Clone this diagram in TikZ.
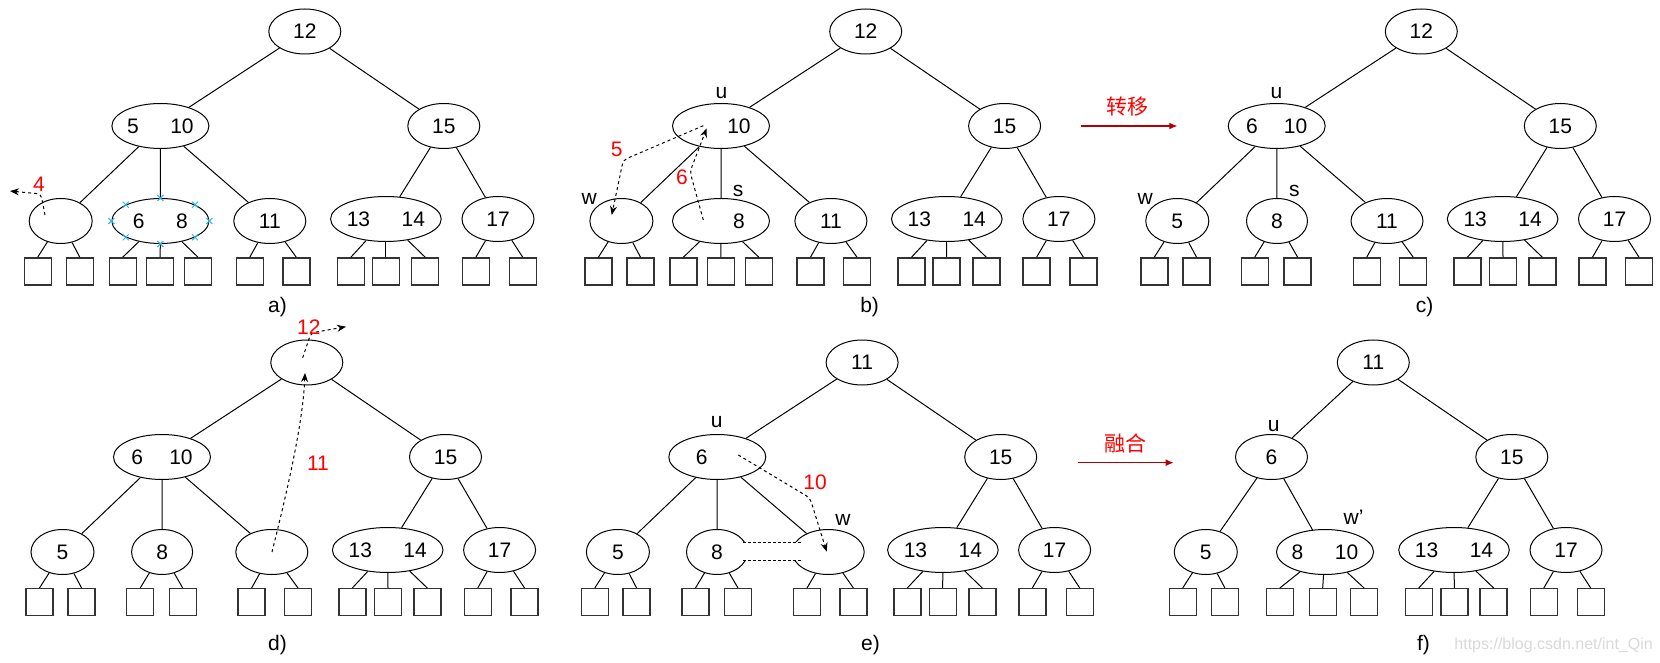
\documentclass[tikz,border=0pt]{standalone}
\usepackage{fontspec}
\setmainfont{Liberation Sans}
\newfontfamily\cjk{Noto Sans CJK SC}
\usepackage{tikz}
\usetikzlibrary{shapes.geometric, shapes.misc, arrows.meta}
\definecolor{arrowred}{RGB}{180,0,0}
\definecolor{markblue}{RGB}{41,182,242}
\newcommand\kf{\fontsize{10.5pt}{12pt}\selectfont}

\tikzset{
  key/.style={ellipse, draw, line width=0.5pt, inner sep=0pt, minimum width=36pt, minimum height=22.5pt, font=\kf},
  wide/.style={key, minimum width=48.5pt},
  slim/.style={key, minimum width=31.5pt},
  box/.style={draw=black!80, line width=0.7pt, minimum size=13.5pt, inner sep=0pt},
  tag/.style={font=\kf, inner sep=0pt},
  rednum/.style={font=\kf, text=red, inner sep=0pt},
  trace/.style={dash pattern=on 1.5pt off 1.5pt, line width=0.5pt, rounded corners=2pt, -{Stealth[length=4.5pt,width=3.5pt]}},
  bigarrow/.style={draw=arrowred, line width=0.6pt, -{Latex[length=4pt,width=3.5pt]}},
  xmark/.style={cross out, draw=markblue, line width=0.5pt, minimum size=2.5pt, inner sep=0pt}
}

\begin{document}
\begin{tikzpicture}[x=0.5pt, y=-0.5pt, line width=0.5pt]
  \useasboundingbox (0,0) rectangle (1660,663);

  %% a) the key 4 leaves an empty node
  \node[key] (a0) at (304.8,31.5) {12};
  \node[wide] (a1) at (160.4,126) {5\hspace{1.5em}10};
  \node[key] (a2) at (443.8,126) {15};
  \node[slim] (a3) at (60.7,221) {};
  \node[wide] (a4) at (160.4,221) {6\hspace{1.5em}8};
  \node[key] (a5) at (269.8,221) {11};
  \node[wide] (a6) at (385.9,219) {13\hspace{1.5em}14};
  \node[key] (a7) at (498,219) {17};
  \foreach \i/\x in {1/37.7, 2/79.8, 3/122.7, 4/160.2, 5/198, 6/249.8,
                     7/296.3, 8/350.9, 9/385.9, 10/425.2, 11/475.9, 12/522.7}
    \node[box] (aq\i) at (\x,271.4) {};
  \draw (a0) -- (a1) (a0) -- (a2) (a1) -- (a3) (a1) -- (a4) (a1) -- (a5) (a2) -- (a6) (a2) -- (a7);
  \foreach \p/\q in {a3/1, a3/2, a4/3, a4/4, a4/5, a5/6, a5/7, a6/8, a6/9, a6/10, a7/11, a7/12}
    \draw (\p) -- (aq\q.north);
  \foreach \a in {north, south, east, west, north east, north west, south east, south west}
    \node[xmark] at (a4.\a) {};
  \coordinate (p4s) at (45,215);
  \coordinate (p4e) at (10,191);
  \draw[trace] (p4s) -- (41,194) -- (p4e);
  \node[rednum] (n4) at (39,184) {4};
  \node[tag] (la) at (277.5,307) {a)};

  %% b) borrow from the sibling
  \node[key] (b0) at (865.7,31.5) {12};
  \node[wide] (b1) at (721,126) {\hspace*{1.71em}10};
  \node[key] (b2) at (1004.6,126) {15};
  \node[slim] (b3) at (621.4,221) {};
  \node[wide] (b4) at (721,221) {\hspace*{1.71em}8};
  \node[key] (b5) at (830.9,221) {11};
  \node[wide] (b6) at (946.8,219) {13\hspace{1.5em}14};
  \node[key] (b7) at (1058.9,219) {17};
  \foreach \i/\x in {1/598.4, 2/640.5, 3/683.4, 4/720.9, 5/758.8, 6/810.5,
                     7/857, 8/911.6, 9/946.6, 10/986.3, 11/1036.6, 12/1083.4}
    \node[box] (bq\i) at (\x,271.4) {};
  \draw (b0) -- (b1) (b0) -- (b2) (b1) -- (b3) (b1) -- (b4) (b1) -- (b5) (b2) -- (b6) (b2) -- (b7);
  \foreach \p/\q in {b3/1, b3/2, b4/3, b4/4, b4/5, b5/6, b5/7, b6/8, b6/9, b6/10, b7/11, b7/12}
    \draw (\p) -- (bq\q.north);
  \node[tag] (bu) at (721.4,92.7) {u};
  \node[tag] (bw) at (589.3,199.3) {w};
  \node[tag] (bs) at (738.2,190.7) {s};
  \coordinate (p5s) at (703.3,125.7);
  \coordinate (p5e) at (611.7,215);
  \coordinate (p6s) at (703.3,220);
  \coordinate (p6e) at (706.7,128.3);
  \draw[trace] (p5s) -- (623.3,160) -- (p5e);
  \draw[trace] (p6s) -- (690,171.7) -- (p6e);
  \node[rednum] (n5) at (616.8,149) {5};
  \node[rednum] (n6) at (682,177) {6};
  \node[tag] (lb) at (869.6,307) {b)};

  %% transfer arrow
  \coordinate (t1s) at (1081.4,126);
  \coordinate (t1e) at (1177.3,126);
  \draw[bigarrow] (t1s) -- (t1e);
  \node[font=\cjk\fontsize{10.5pt}{12pt}\selectfont, text=red, inner sep=0pt] (zy) at (1127,107) {转移};

  %% c) after the transfer
  \node[key] (c0) at (1421.3,31.5) {12};
  \node[wide] (c1) at (1276.7,126) {6\hspace{1.25em}10};
  \node[key] (c2) at (1560.3,126) {15};
  \node[slim] (c3) at (1177.3,221) {5};
  \node[key, minimum width=30.5pt] (c4) at (1277,221) {8};
  \node[key] (c5) at (1387,221) {11};
  \node[wide] (c6) at (1502.6,219) {13\hspace{1.5em}14};
  \node[key] (c7) at (1614.5,219) {17};
  \foreach \i/\x in {1/1154.3, 2/1196.5, 3/1254.7, 4/1297.6, 5/1366.7, 6/1413.2,
                     7/1467.4, 8/1503, 9/1542.3, 10/1592.5, 11/1639}
    \node[box] (cq\i) at (\x,271.4) {};
  \draw (c0) -- (c1) (c0) -- (c2) (c1) -- (c3) (c1) -- (c4) (c1) -- (c5) (c2) -- (c6) (c2) -- (c7);
  \foreach \p/\q in {c3/1, c3/2, c4/3, c4/4, c5/5, c5/6, c6/7, c6/8, c6/9, c7/10, c7/11}
    \draw (\p) -- (cq\q.north);
  \node[tag] (cu) at (1276.5,92.7) {u};
  \node[tag] (cw) at (1145.3,199) {w};
  \node[tag] (cs) at (1294.4,190.7) {s};
  \node[tag] (lc) at (1424.5,307) {c)};

  %% d) the key 11 moves up
  \node[key] (d0) at (306.8,362.5) {};
  \node[wide] (d1) at (162,457) {6\hspace{1.25em}10};
  \node[key] (d2) at (445.5,457) {15};
  \node[slim] (d3) at (62.5,552) {5};
  \node[key, minimum width=30.5pt] (d4) at (162.1,552) {8};
  \node[key] (d5) at (271.8,552) {};
  \node[wide] (d6) at (387.7,550) {13\hspace{1.5em}14};
  \node[key] (d7) at (499.6,550) {17};
  \foreach \i/\x in {1/39.5, 2/81.6, 3/140.2, 4/182.7, 5/251.6, 6/298,
                     7/352.3, 8/388, 9/427.3, 10/477.7, 11/524.5}
    \node[box] (dq\i) at (\x,602.2) {};
  \draw (d0) -- (d1) (d0) -- (d2) (d1) -- (d3) (d1) -- (d4) (d1) -- (d5) (d2) -- (d6) (d2) -- (d7);
  \foreach \p/\q in {d3/1, d3/2, d4/3, d4/4, d5/5, d5/6, d6/7, d6/8, d6/9, d7/10, d7/11}
    \draw (\p) -- (dq\q.north);
  \coordinate (p11s) at (272,552);
  \coordinate (p11e) at (305,373);
  \coordinate (p12s) at (302.7,357.7);
  \coordinate (p12e) at (346,326.7);
  \draw[trace] (p11s) .. controls (290,480) and (303,420) .. (p11e);
  \draw[trace] (p12s) -- (311,333) -- (p12e);
  \node[rednum] (n12) at (308.9,327) {12};
  \node[rednum] (n11) at (317.9,463) {11};
  \node[tag] (ld) at (277.5,645) {d)};

  %% e) merge with the sibling
  \node[key] (e0) at (862.1,362.5) {11};
  \node[wide] (e1) at (717.3,457) {6\hspace*{1.48em}};
  \node[key] (e2) at (1000.7,457) {15};
  \node[slim] (e3) at (617.9,552) {5};
  \node[key, minimum width=30.5pt] (e4) at (717,552) {8};
  \node[key] (e5) at (828.2,552) {};
  \node[wide] (e6) at (942.9,550) {13\hspace{1.5em}14};
  \node[key] (e7) at (1054.6,550) {17};
  \foreach \i/\x in {1/594.8, 2/636.6, 3/695.5, 4/738, 5/807, 6/853.4,
                     7/907.3, 8/942.7, 9/982.3, 10/1032.3, 11/1079.8}
    \node[box] (eq\i) at (\x,602.2) {};
  \draw (e0) -- (e1) (e0) -- (e2) (e1) -- (e3) (e1) -- (e4) (e1) -- (e5) (e2) -- (e6) (e2) -- (e7);
  \foreach \p/\q in {e3/1, e3/2, e4/3, e4/4, e5/5, e5/6, e6/7, e6/8, e6/9, e7/10, e7/11}
    \draw (\p) -- (eq\q.north);
  \fill[white] (742.9,542.3) rectangle (801.8,560);
  \draw[dash pattern=on 1.5pt off 1pt] (742.9,542.3) -- (801.8,542.3) (742.9,560) -- (801.8,560);
  \node[tag] (eu) at (716.8,421.7) {u};
  \node[tag] (ew) at (842.9,520) {w};
  \coordinate (p10s) at (738.3,455);
  \coordinate (p10e) at (826.7,551.7);
  \draw[trace] (p10s) -- (810,498) -- (p10e);
  \node[rednum] (n10) at (815,482.3) {10};
  \node[tag] (le) at (870.4,645) {e)};

  %% merge arrow
  \coordinate (t2s) at (1077.9,462.7);
  \coordinate (t2e) at (1173.6,462.7);
  \draw[bigarrow] (t2s) -- (t2e);
  \node[font=\cjk\fontsize{10.5pt}{12pt}\selectfont, text=red, inner sep=0pt] (rh) at (1125,443.5) {融合};

  %% f) after the merge
  \node[key] (f0) at (1373.3,362.5) {11};
  \node[key] (f1) at (1271.5,457) {6};
  \node[key] (f2) at (1511.8,457) {15};
  \node[slim] (f3) at (1205.8,552) {5};
  \node[wide] (f4) at (1325,552) {8\hspace{1.5em}10};
  \node[wide] (f5) at (1454,550) {13\hspace{1.5em}14};
  \node[key] (f6) at (1566,550) {17};
  \foreach \i/\x in {1/1182.7, 2/1224.9, 3/1279.8, 4/1322.7, 5/1364.1,
                     6/1418.7, 7/1454.3, 8/1493.6, 9/1543.8, 10/1590.7}
    \node[box] (fq\i) at (\x,602.2) {};
  \draw (f0) -- (f1) (f0) -- (f2) (f1) -- (f3) (f1) -- (f4) (f2) -- (f5) (f2) -- (f6);
  \foreach \p/\q in {f3/1, f3/2, f4/3, f4/4, f4/5, f5/6, f5/7, f5/8, f6/9, f6/10}
    \draw (\p) -- (fq\q.north);
  \node[tag] (fu) at (1273.6,426) {u};
  \node[tag] (fw) at (1353.6,517) {w'};
  \node[tag] (lf) at (1423.5,645) {f)};
  \node[font=\fontsize{8pt}{9pt}\selectfont, text=black!15, inner sep=0pt] (mark) at (1553.6,645) {https://blog.csdn.net/int\_Qin};
\end{tikzpicture}
\end{document}
